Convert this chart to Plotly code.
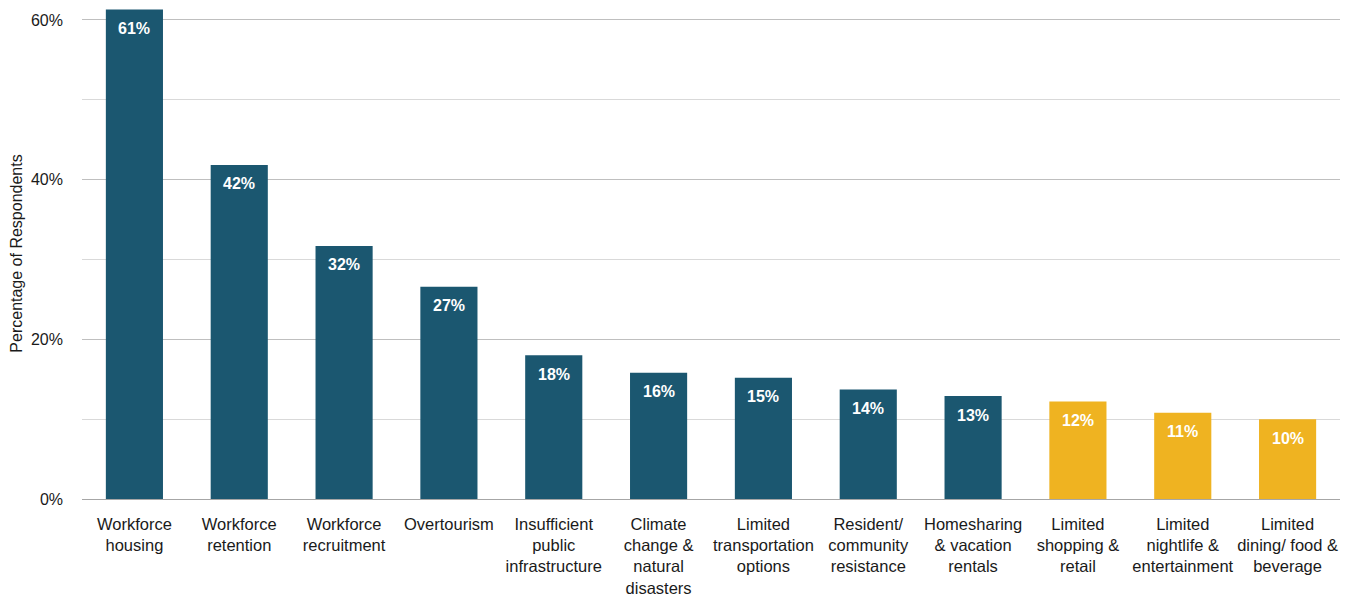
import plotly.graph_objects as go

categories = [
    "Workforce<br>housing", "Workforce<br>retention", "Workforce<br>recruitment",
    "Overtourism", "Insufficient<br>public<br>infrastructure",
    "Climate<br>change &<br>natural<br>disasters", "Limited<br>transportation<br>options",
    "Resident/<br>community<br>resistance", "Homesharing<br>& vacation<br>rentals",
    "Limited<br>shopping &<br>retail", "Limited<br>nightlife &<br>entertainment",
    "Limited<br>dining/ food &<br>beverage",
]
values = [0.613, 0.4185, 0.317, 0.266, 0.180, 0.158, 0.152, 0.137, 0.129, 0.122, 0.108, 0.100]
groups = ["core"] * 9 + ["amenity"] * 3

TEAL = "#1b5770"
GOLD = "#efb321"
colors = [TEAL if g == "core" else GOLD for g in groups]

fig = go.Figure()
fig.add_trace(go.Bar(
    x=categories, y=values,
    marker=dict(color=colors, line=dict(width=0)),
    hoverinfo="skip",
))

for c, v in zip(categories, values):
    fig.add_annotation(
        x=c, y=v, text=f"<b>{round(v*100):.0f}%</b>", showarrow=False,
        yanchor="middle", yshift=-19,
        font=dict(family="Liberation Sans, Arial", size=16, color="white"),
    )

fig.update_layout(
    width=1353, height=606,
    margin=dict(l=74, r=21, t=0, b=115),
    paper_bgcolor="white", plot_bgcolor="white",
    bargap=0.455,
    showlegend=False,
    font=dict(family="Liberation Sans, Arial", size=16, color="#1a1a1a"),
)
fig.update_xaxes(
    showgrid=False, showline=False, zeroline=False,
    tickfont=dict(size=16.5), tickangle=0, ticklabelstandoff=13,
)
fig.update_yaxes(
    range=[0, 0.615], tickvals=[0, 0.2, 0.4, 0.6], tickformat=".0%",
    showgrid=True, gridcolor="#bfbfbf", gridwidth=1,
    minor=dict(tickvals=[0.1, 0.3, 0.5], showgrid=True, gridcolor="#d9d9d9", gridwidth=1),
    zeroline=True, zerolinecolor="#a6a6a6", zerolinewidth=1,
    showline=False, ticks="", ticklabelstandoff=18,
    tickfont=dict(size=16),
    title=dict(text="Percentage of Respondents", font=dict(size=16), standoff=6),
)

fig.write_html("out.html")
